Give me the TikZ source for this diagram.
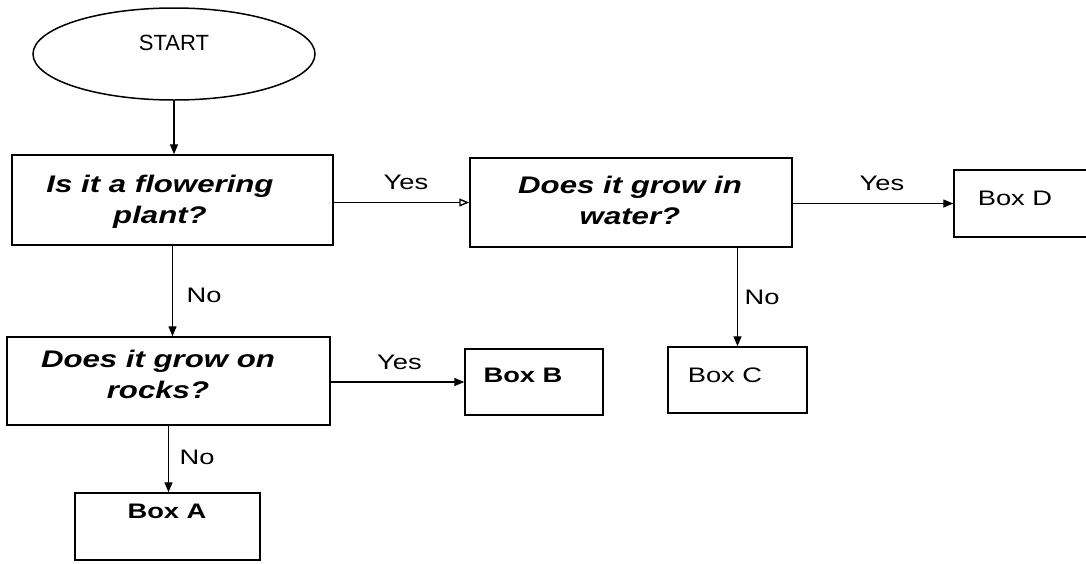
\documentclass[tikz,border=0pt]{standalone}
\usepackage{fontspec}
\setmainfont{Liberation Sans}
\newfontfamily\af[FakeStretch=1.3]{Liberation Sans}
\usetikzlibrary{shapes.geometric,arrows.meta,calc}
\begin{document}
\begin{tikzpicture}[x=1pt,y=-1pt,
  box/.style={draw, line width=1.5pt, inner sep=0pt},
  conn/.style={line width=1.4pt, -{Triangle[length=10pt,width=8pt]}},
  connopen/.style={line width=1.4pt, -{Triangle[open,length=10pt,width=8pt]}},
  qtext/.style={font=\af\bfseries\itshape\fontsize{24}{31}\selectfont, align=center, inner sep=0pt},
  btext/.style={font=\af\fontsize{21}{25}\selectfont, inner sep=0pt},
  bbtext/.style={font=\af\bfseries\fontsize{21}{25}\selectfont, inner sep=0pt},
  lbl/.style={font=\af\fontsize{21}{25}\selectfont, inner sep=0pt}
]
\clip (0,0) rectangle (1086,563);
\fill[white] (0,0) rectangle (1086,563);

% shapes
\node[box, ellipse, minimum width=282pt, minimum height=92pt] (start) at (174,54) {};
\node[font=\fontsize{22}{26}\selectfont, inner sep=0pt] (tStart) at (174,42.5) {START};

\node[box, minimum width=321pt, minimum height=90pt] (b1) at (172.5,200) {};
\node[qtext] (t1) at (160,202) {Is it a flowering\\plant?};

\node[box, minimum width=322pt, minimum height=89pt] (b2) at (631,202.5) {};
\node[qtext] (t2) at (630,200) {Does it grow in\\water?};

\node[box, minimum width=200pt, minimum height=67pt] (bD) at (1054,203.5) {};
\node[btext] (tD) at (1015,198) {Box D};

\node[box, minimum width=323pt, minimum height=88pt] (b3) at (168.5,381) {};
\node[qtext] (t3) at (158,374.5) {Does it grow on\\rocks?};

\node[box, minimum width=138pt, minimum height=66pt] (bB) at (534,382) {};
\node[bbtext] (tB) at (523,375) {Box B};

\node[box, minimum width=139pt, minimum height=66pt] (bC) at (737.5,380) {};
\node[btext] (tC) at (725,375) {Box C};

\node[box, minimum width=185pt, minimum height=67pt] (bA) at (167.5,526.5) {};
\node[bbtext] (tA) at (167,511.5) {Box A};

% connectors
\draw[conn] (start.south) -- (start.south |- b1.north);
\draw[connopen] (b2.west -| b1.east) -- (b2.west);
\draw[conn] (b2.east |- bD.west) -- (bD.west);
\draw[conn] (b1.south) -- (b1.south |- b3.north);
\draw[conn] (b3.east |- bB.west) -- (bB.west);
\draw[conn] (bC.north |- b2.south) -- (bC.north);
\draw[conn] (b3.south) -- (b3.south |- bA.north);

% labels
\node[lbl] (y1) at (406,182) {Yes};
\node[lbl] (y2) at (882,183) {Yes};
\node[lbl] (y3) at (399.5,362) {Yes};
\node[lbl] (n1) at (204,295) {No};
\node[lbl] (n2) at (762,297) {No};
\node[lbl] (n3) at (197,457) {No};
\end{tikzpicture}
\end{document}
